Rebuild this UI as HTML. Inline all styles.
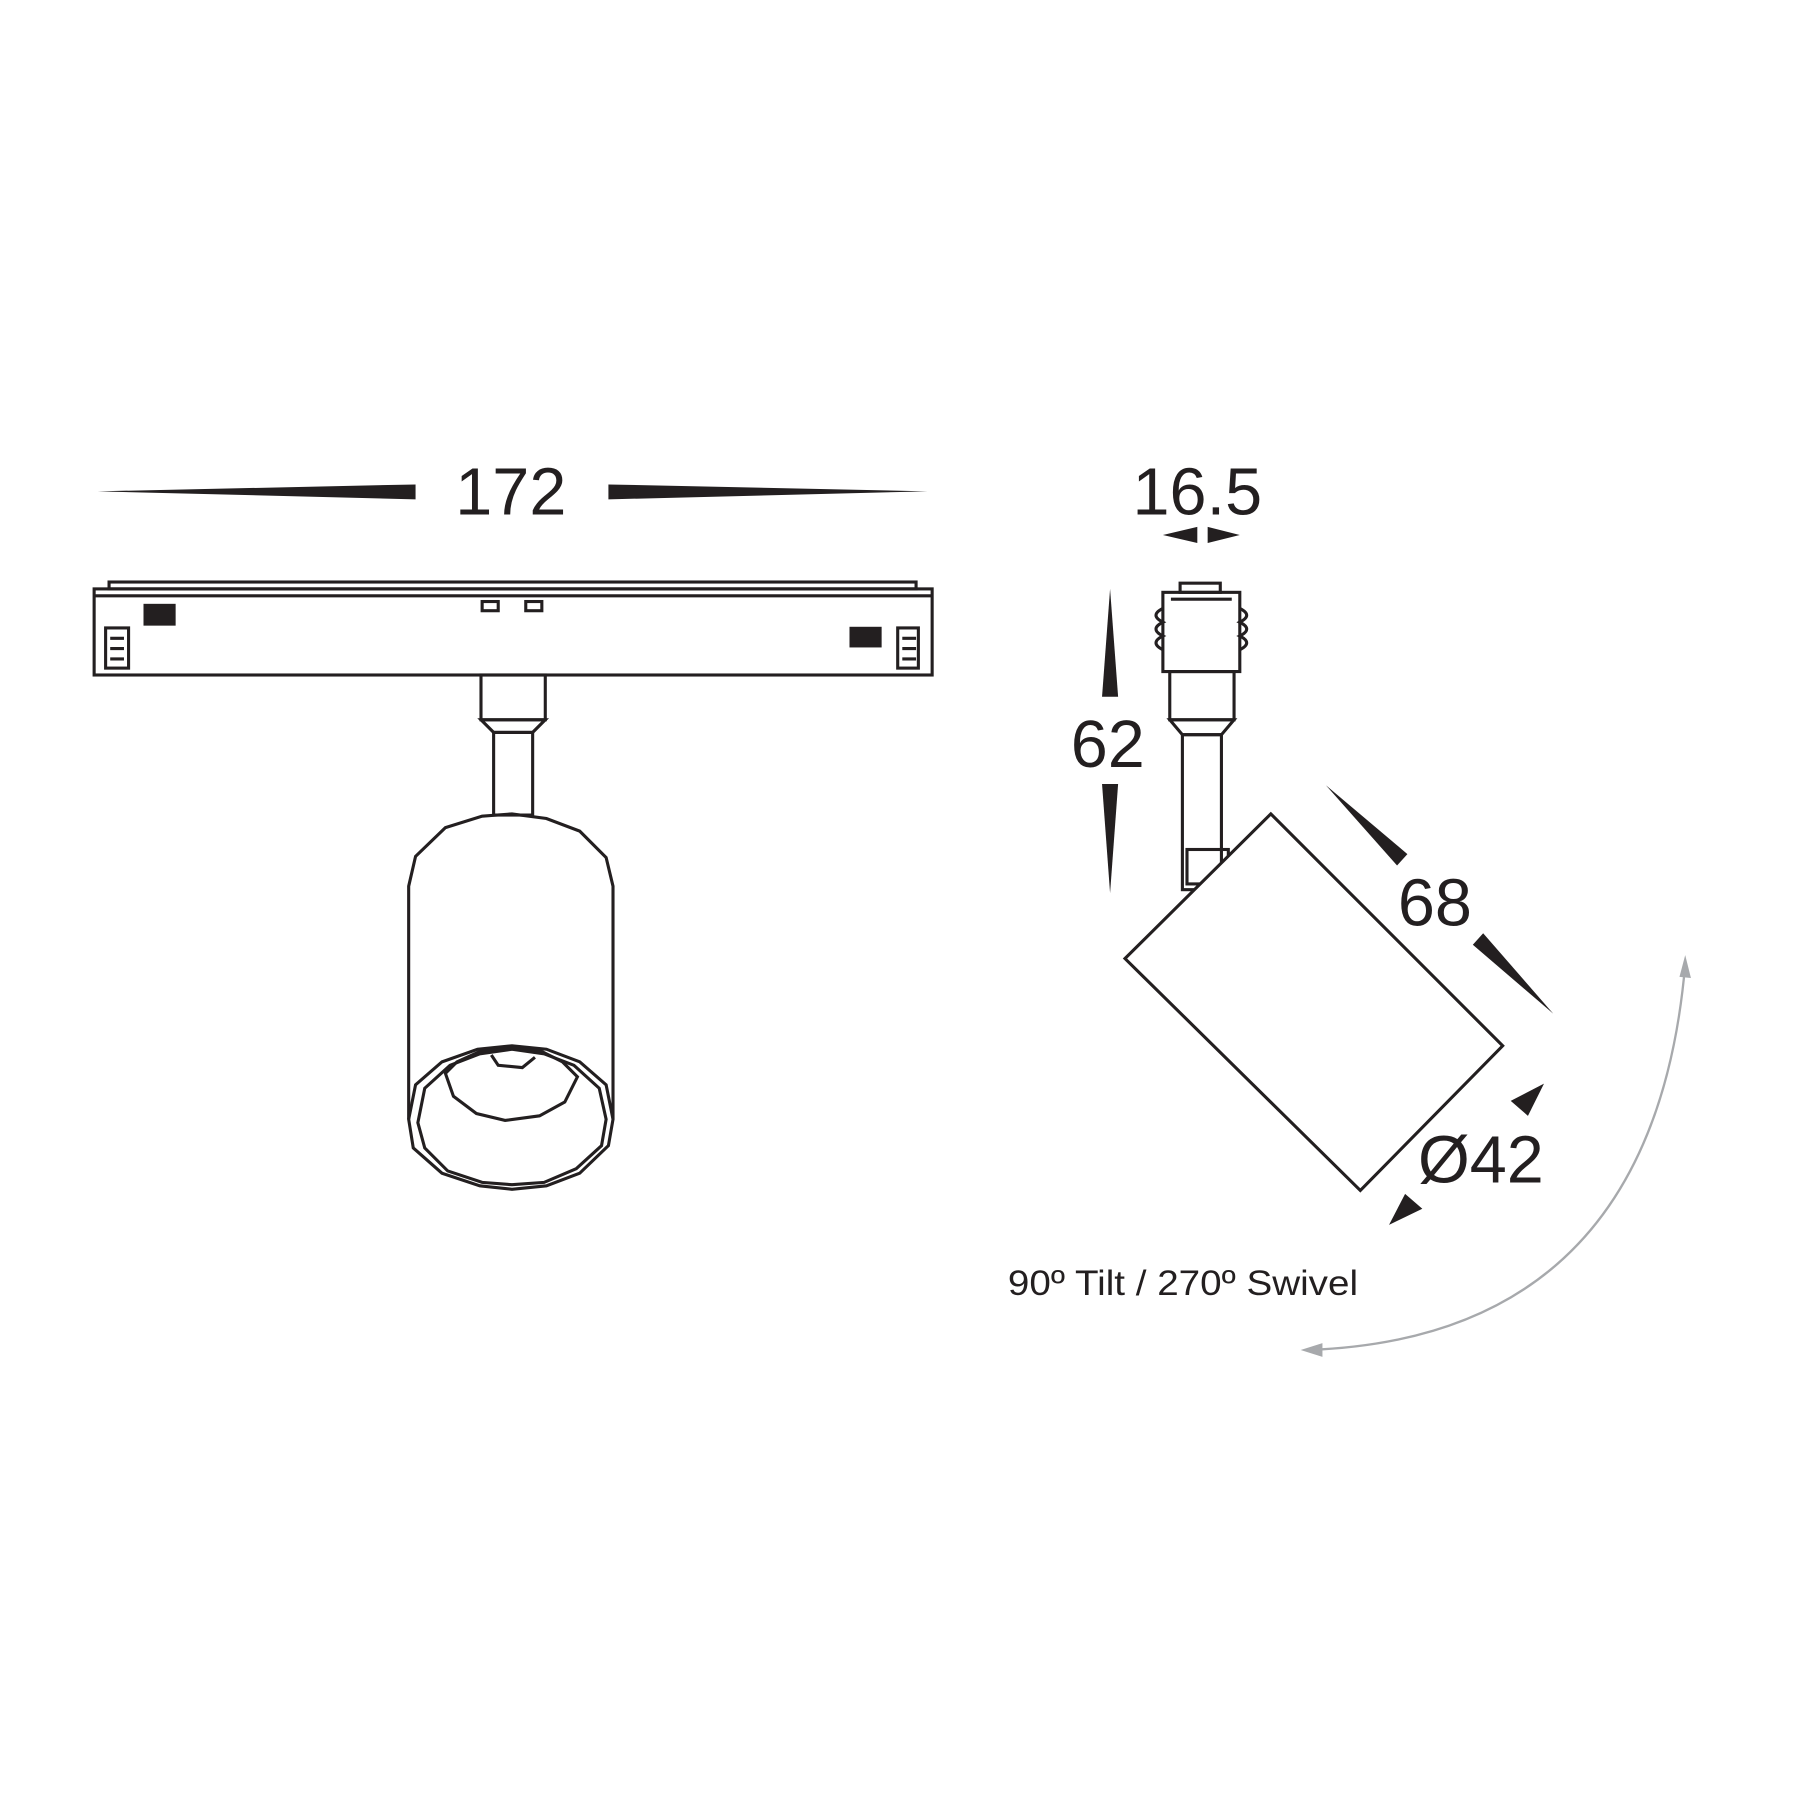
<!DOCTYPE html>
<html><head><meta charset="utf-8"><style>html,body{margin:0;padding:0;background:#fff}svg{display:block}</style></head><body>
<svg width="1800" height="1800" viewBox="0 0 1568 1568" xmlns="http://www.w3.org/2000/svg">
<g fill="#231f20" stroke="none">
<polygon points="85,428 362,422 362,435"/>
<polygon points="808,428 530,422 530,435"/>
<polygon points="967,513 974,607 960,607"/>
<polygon points="967,778 974,683 960,683"/>
<polygon points="1013,466 1043,459 1043,473"/>
<polygon points="1080,466 1052,459 1052,473"/>
<polygon points="1155,684 1226,744 1217,754"/>
<polygon points="1353,883 1283,823 1292,813"/>
<polygon points="1345,944 1331,972 1316,959"/>
<polygon points="1210,1067 1224,1040 1239,1053"/>
<rect x="125" y="526" width="28" height="19"/>
<rect x="740" y="546" width="28" height="18"/>
</g>
<g font-family="Liberation Sans, sans-serif" fill="#231f20" text-anchor="middle">
<text x="445" y="448" font-size="58">172</text>
<text x="1043" y="448" font-size="58">16.5</text>
<text x="965" y="668" font-size="58">62</text>
<text x="1250" y="806" font-size="58">68</text>
<text x="1290" y="1030" font-size="58">Ø42</text>
</g>
<text x="878" y="1128" font-size="31" font-family="Liberation Sans, sans-serif" fill="#231f20" textLength="305" lengthAdjust="spacingAndGlyphs">90º Tilt / 270º Swivel</text>
<g fill="none" stroke="#231f20" stroke-width="2.7">
<rect x="95" y="507" width="703" height="6"/>
<rect x="82" y="513" width="730" height="75"/>
<line x1="82" y1="519" x2="812" y2="519"/>
<rect x="420" y="524" width="14" height="8"/>
<rect x="458" y="524" width="14" height="8"/>
<rect x="92" y="547" width="20" height="35"/>
<path d="M96 556h12M96 565h12M96 574h12M786 556h12M786 565h12M786 574h12"/>
<rect x="782" y="547" width="18" height="35"/>
<rect x="419" y="588" width="56" height="39"/>
<polygon points="419,627 475,627 464,638 430,638"/>
<rect x="430" y="638" width="34" height="72"/>
<path d="M356,975 L356,772 L362,746 L388,721 L420,711 L446,709 L476,713 L505,724 L528,747 L534,772 L534,975"/>
<path d="M356,975 L360,1000 L385,1022 L418,1033 L446,1036 L476,1033 L505,1022 L530,998 L534,975 L528,945 L505,925 L476,914 L446,911 L416,914 L385,925 L362,945 Z"/>
<path d="M364,978 L370,1000 L390,1020 L420,1030 L446,1032 L474,1030 L502,1018 L524,998 L528,975 L522,948 L500,928 L474,918 L446,914 L418,918 L392,928 L370,948 Z"/>
<path d="M388,935 L395,955 L415,970 L440,976 L470,972 L492,960 L503,938 L490,925 L470,915 L446,913 L418,916 L398,925 Z"/>
<path d="M428,919 L434,928 L455,930 L466,921"/>
<rect x="1028" y="508" width="35" height="8"/>
<rect x="1013" y="516" width="67" height="69"/>
<line x1="1020" y1="522" x2="1073" y2="522"/>
<path d="M1013,530 q-12,6 0,12 q-12,6 0,12 q-12,6 0,12 M1080,530 q12,6 0,12 q12,6 0,12 q12,6 0,12"/>
<rect x="1019" y="585" width="56" height="42"/>
<polygon points="1019,627 1075,627 1064,640 1030,640"/>
<rect x="1030" y="640" width="34" height="135"/>
<rect x="1034" y="740" width="36" height="30"/>
<polygon points="1107,709 1309,911 1185,1037 980,835" fill="#fff"/>
</g>
<g fill="none" stroke="#a7a9ac" stroke-width="2">
<path d="M1468,840 Q1440,1165 1140,1176"/>
</g>
<g fill="#a7a9ac">
<polygon points="1468,832 1473,852 1463,851"/>
<polygon points="1133,1176 1152,1170 1152,1182"/>
</g>
</svg>
</body></html>
